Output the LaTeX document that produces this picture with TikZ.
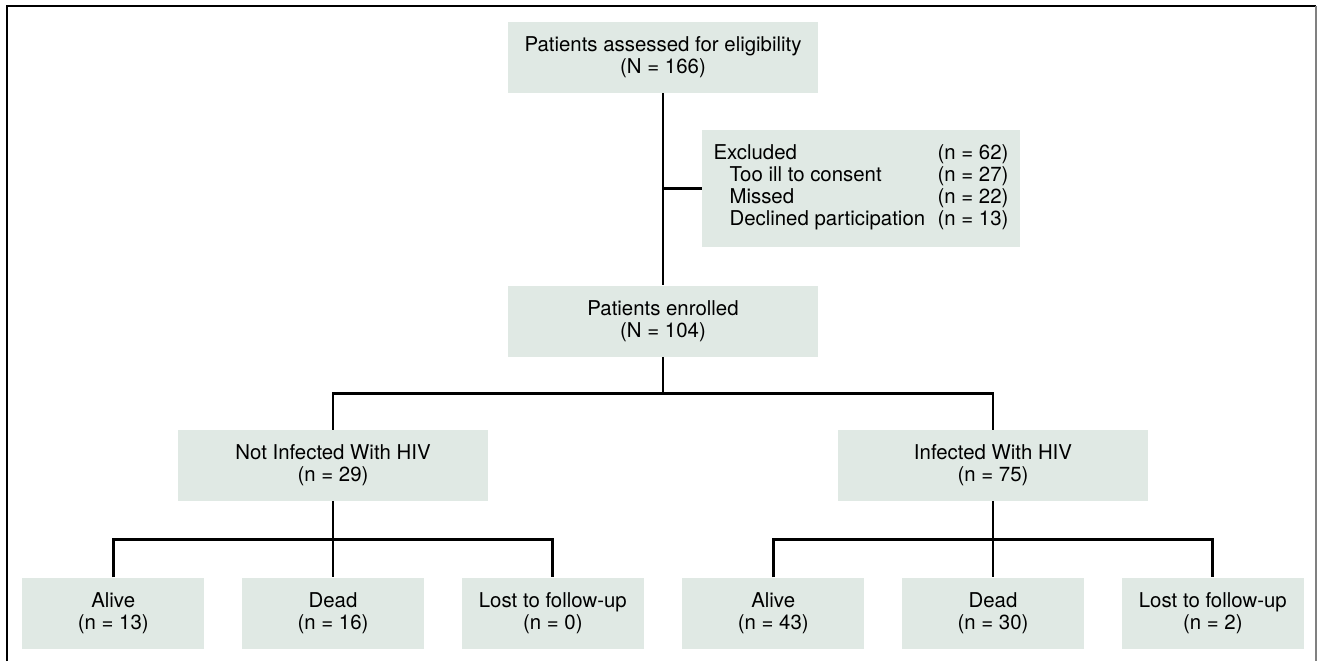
\documentclass[tikz,border=0pt]{standalone}
\usepackage{fontspec}
\setmainfont{TeX Gyre Heros}
\usepackage{tikz}
\usetikzlibrary{positioning}
\usetikzlibrary{calc}

\definecolor{boxfill}{RGB}{224,233,228}

\tikzset{
	box/.style={fill=boxfill, inner sep=0pt, minimum width=155pt, minimum height=35.5pt,
		align=center, font=\fontsize{10.2pt}{11pt}\selectfont},
	smallbox/.style={box, minimum width=91pt},
	link/.style={line width=1.45pt},
	frame/.style={line width=1pt}
}

\begin{document}
\begin{tikzpicture}[x=0.5pt, y=-0.5pt]
	%\draw [help lines, step=50, gray] (0,0) grid (1318, 661);
	\useasboundingbox (0,0) rectangle (1318,661);
	\draw [frame] (7,661) |- (1316,6);
	\draw [frame, gray, line width=0.6pt] (1316,6) -- (1316,661);

	\node (assessed) [box] at (663,57.5) {Patients assessed for eligibility\\(N = 166)};

	\node (excluded) [box, minimum width=159pt, minimum height=58.5pt] at (861,188.5) {%
		\begin{tabular}{@{}p{112pt}@{}l@{}}
			Excluded & (n = 62)\\
			\hspace{8pt}Too ill to consent & (n = 27)\\
			\hspace{8pt}Missed & (n = 22)\\
			\hspace{8pt}Declined participation & (n = 13)
		\end{tabular}};

	\node (enrolled) [box] at (663,321) {Patients enrolled\\(N = 104)};

	\node (notinf) [box] at (333,465.5) {Not Infected With HIV\\(n = 29)};
	\node (inf) [box] at (993,465.5) {Infected With HIV\\(n = 75)};

	\node (nidead) [smallbox, below=38pt of notinf] {Dead\\(n = 16)};
	\node (nialive) [smallbox, left=18.5pt of nidead] {Alive\\(n = 13)};
	\node (nilost) [smallbox, right=18.5pt of nidead] {Lost to follow-up\\(n = 0)};

	\node (infdead) [smallbox, below=38pt of inf] {Dead\\(n = 30)};
	\node (infalive) [smallbox, left=18.5pt of infdead] {Alive\\(n = 43)};
	\node (inflost) [smallbox, right=18.5pt of infdead] {Lost to follow-up\\(n = 2)};

	% connectors
	\draw [link] (assessed) -- (enrolled);
	\draw [link] (excluded.west) -- (excluded.west -| assessed.south);

	\coordinate (split) at ($(enrolled.south)!.5!(enrolled.south |- notinf.north)$);
	\draw [link] (enrolled) -- (split);
	\draw [link] (notinf.north) |- (split) -| (inf.north);

	\coordinate (nisplit) at ($(notinf.south)!.5!(nidead.north)$);
	\draw [link] (notinf) -- (nidead);
	\draw [link] (nialive.north) |- (nisplit) -| (nilost.north);

	\coordinate (infsplit) at ($(inf.south)!.5!(infdead.north)$);
	\draw [link] (inf) -- (infdead);
	\draw [link] (infalive.north) |- (infsplit) -| (inflost.north);
\end{tikzpicture}
\end{document}
